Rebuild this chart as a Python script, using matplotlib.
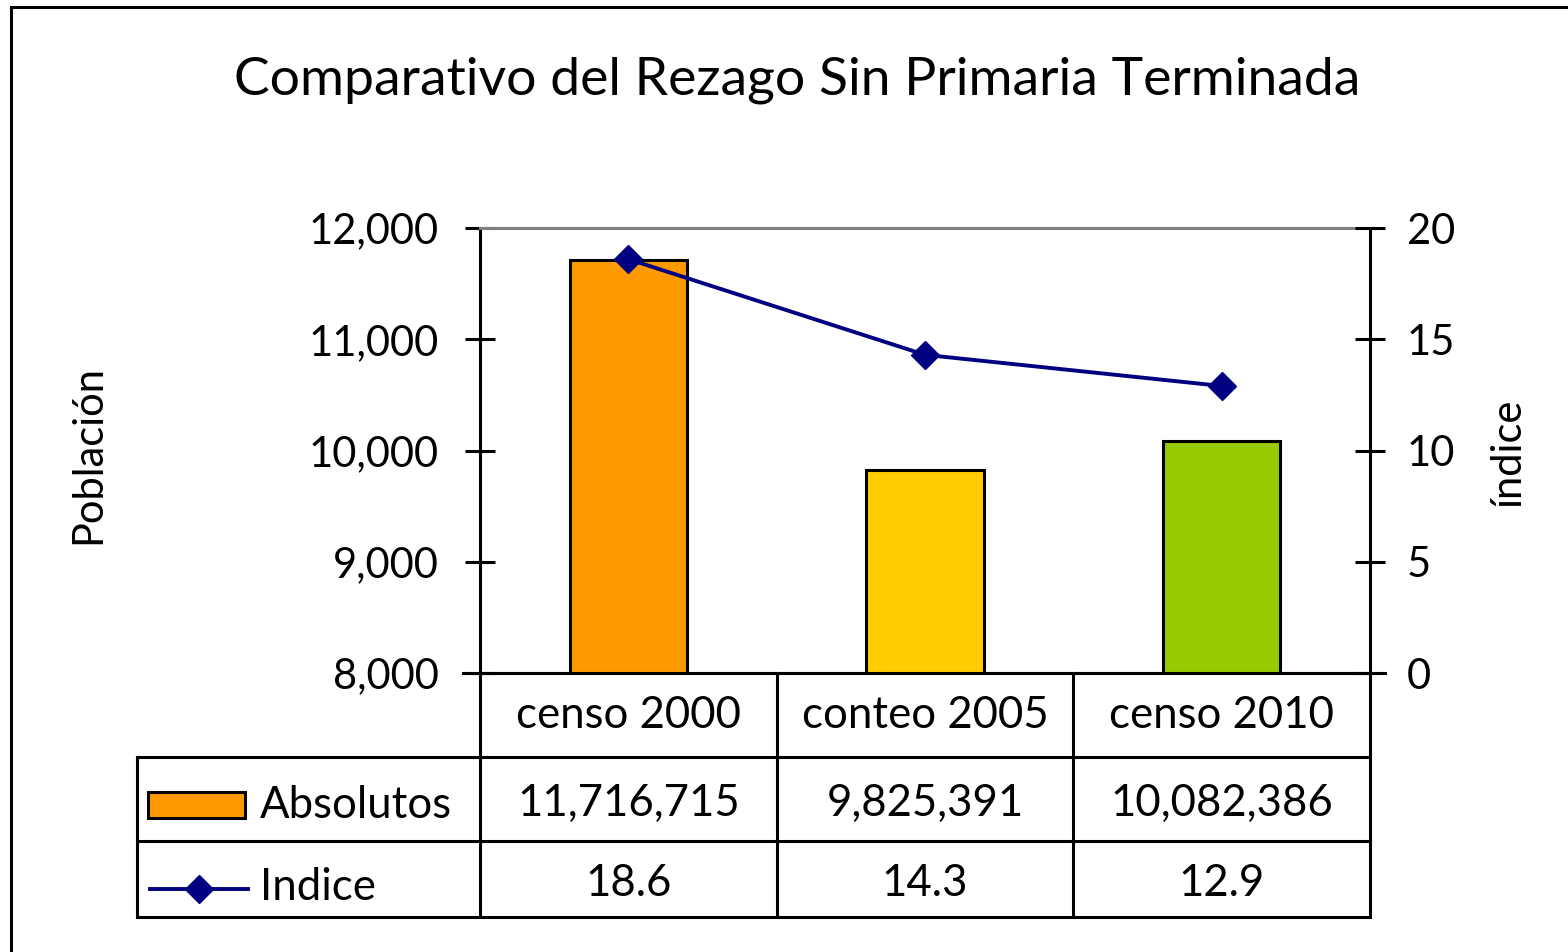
import matplotlib
matplotlib.use("Agg")
import matplotlib.pyplot as plt
from matplotlib.lines import Line2D
from matplotlib.patches import Rectangle
from matplotlib.transforms import blended_transform_factory
from matplotlib.ticker import FuncFormatter

plt.rcParams['font.family'] = ['Lato', 'DejaVu Sans']

# ---- data ----
categories = ["censo 2000", "conteo 2005", "censo 2010"]
absolutos = [11716715, 9825391, 10082386]
indice = [18.6, 14.3, 12.9]
bar_colors = ["#FF9900", "#FFCC00", "#99CC00"]
line_color = "#000080"
title = "Comparativo del Rezago Sin Primaria Terminada"

W, H = 1568, 952
fig = plt.figure(figsize=(W / 100, H / 100), dpi=100)

def fx(px):
    return px / W

def fy(py):
    return 1 - py / H

L, R, T, B = 480, 1370, 228, 673
ax = fig.add_axes([fx(L), fy(B), fx(R) - fx(L), fy(T) - fy(B)])
ax2 = ax.twinx()
ax.set_zorder(1)
ax2.set_zorder(2)
ax.patch.set_visible(False)

FS = 30
TFS = 31.5
LW = 2.2

xs = list(range(len(categories)))
vals_k = [v / 1000 for v in absolutos]
ax.bar(xs, vals_k, width=0.395, color=bar_colors, edgecolor="black", linewidth=LW, zorder=3)
ax.set_xlim(-0.5, len(categories) - 0.5)
ax.set_ylim(8000, 12000)
ax.set_yticks([8000, 9000, 10000, 11000, 12000])
ax.yaxis.set_major_formatter(FuncFormatter(lambda v, p: f"{int(v):,}"))
ax.set_xticks([])

ax2.plot(xs, indice, color=line_color, linewidth=2.8, marker="D", markersize=14.5,
         markerfacecolor=line_color, markeredgecolor=line_color, zorder=4)
ax2.set_ylim(0, 20)
ax2.set_yticks([0, 5, 10, 15, 20])
ax2.set_xlim(-0.5, len(categories) - 0.5)

for a in (ax, ax2):
    a.tick_params(axis="y", direction="inout", length=21, width=LW, labelsize=FS, colors="black")
    for s in a.spines.values():
        s.set_linewidth(LW)
    a.spines["top"].set_color("#808080")
    a.spines["bottom"].set_color("black")
ax.spines["right"].set_visible(False)
ax2.spines["left"].set_visible(False)
ax2.spines["top"].set_visible(False)
ax2.spines["bottom"].set_visible(False)
ax.tick_params(axis="y", pad=19)
ax2.tick_params(axis="y", pad=16)

# extend bottom line to include tick stubs
fig.add_artist(Line2D([fx(463), fx(1385)], [fy(B), fy(B)], color="black", linewidth=LW, zorder=5))

# axis labels
fig.text(fx(88), fy(455), "Población", rotation=90, ha="center", va="center", fontsize=FS)
fig.text(fx(1507), fy(452), "índice", rotation=90, ha="center", va="center", fontsize=FS)

# title
fig.text(fx(797), fy(80), title, ha="center", va="center", fontsize=38.5)

# ---- data table ----
tr = blended_transform_factory(ax.transData, fig.transFigure)
rows_y = [B, 757, 841, 917]
left_tab = 137
col_edges = [-0.5 + i for i in range(len(categories) + 1)]

def hline(y, x0_fig_px, x1_data):
    x1_fig = ax.transData.transform((x1_data, 0))[0] / fig.dpi / fig.get_figwidth()
    fig.add_artist(Line2D([fx(x0_fig_px), x1_fig], [fy(y), fy(y)], color="black", linewidth=LW))

for y in rows_y[1:]:
    hline(y, left_tab, col_edges[-1])
for ce in col_edges:
    fig.add_artist(Line2D([ce, ce], [fy(B), fy(rows_y[-1])], transform=tr, color="black", linewidth=LW))
fig.add_artist(Line2D([fx(left_tab), fx(left_tab)], [fy(rows_y[1]), fy(rows_y[-1])], color="black", linewidth=LW))

# cell texts
for i, c in enumerate(categories):
    fig.text(xs[i], fy(716), c, transform=tr, ha="center", va="center", fontsize=TFS)
    fig.text(xs[i], fy(803), f"{absolutos[i]:,}", transform=tr, ha="center", va="center", fontsize=TFS)
    fig.text(xs[i], fy(884), f"{indice[i]:.1f}", transform=tr, ha="center", va="center", fontsize=TFS)

# legend keys
fig.add_artist(Rectangle((fx(148), fy(818)), fx(245) - fx(148), fy(792) - fy(818),
                         facecolor=bar_colors[0], edgecolor="black", linewidth=LW))
fig.add_artist(Line2D([fx(150), fx(248)], [fy(889), fy(889)], color=line_color, linewidth=2.8))
fig.add_artist(Line2D([fx(199)], [fy(889)], color=line_color, marker="D", markersize=14,
                      markerfacecolor=line_color, markeredgecolor=line_color, linestyle="none"))
fig.text(fx(260), fy(805), "Absolutos", ha="left", va="center", fontsize=TFS)
fig.text(fx(260), fy(887), "Indice", ha="left", va="center", fontsize=TFS)

# outer frame (right/bottom edges beyond the canvas)
fig.add_artist(Rectangle((fx(11), fy(1000)), fx(1700) - fx(11), fy(7) - fy(1000),
                         facecolor="none", edgecolor="black", linewidth=LW, transform=fig.transFigure))

fig.savefig("out.png", dpi=100)
